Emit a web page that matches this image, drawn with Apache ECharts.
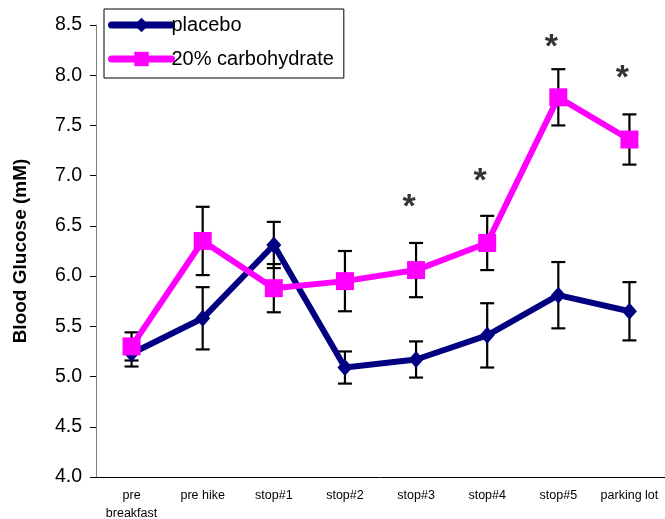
<!DOCTYPE html>
<html>
<head>
<meta charset="utf-8">
<script src="https://cdn.jsdelivr.net/npm/echarts@6/dist/echarts.min.js"></script>
<style>html,body{margin:0;padding:0;background:#fff;}#c{width:665px;height:519px;}</style>
</head>
<body>
<div id="c"></div>
<script>
const categories = ['pre\nbreakfast','pre hike','stop#1','stop#2','stop#3','stop#4','stop#5','parking lot'];
const placebo    = [5.23, 5.58, 6.31, 5.09, 5.17, 5.41, 5.81, 5.65];
const placeboErr = [0.13, 0.31, 0.23, 0.16, 0.18, 0.32, 0.33, 0.29];
const carb       = [5.30, 6.35, 5.88, 5.95, 6.06, 6.33, 7.78, 7.36];
const carbErr    = [0.14, 0.34, 0.24, 0.30, 0.27, 0.27, 0.28, 0.25];
const stars      = [null, null, null, null, 6.74, 7.00, 8.33, 8.03];
const yTicks     = [4.0, 4.5, 5.0, 5.5, 6.0, 6.5, 7.0, 7.5, 8.0, 8.5];

const FONT = '"Liberation Sans", Arial, sans-serif';

function errData(vals, errs) {
  return vals.map((v, i) => [i, v - errs[i], v + errs[i]]);
}
function errRender(params, api) {
  const x = api.value(0);
  const lo = api.coord([x, api.value(1)]);
  const hi = api.coord([x, api.value(2)]);
  const hw = 7;
  const style = {stroke: '#000', lineWidth: 2.2, fill: null};
  return {
    type: 'group',
    children: [
      {type: 'line', shape: {x1: hi[0], y1: hi[1], x2: lo[0], y2: lo[1]}, style},
      {type: 'line', shape: {x1: hi[0] - hw, y1: hi[1], x2: hi[0] + hw, y2: hi[1]}, style},
      {type: 'line', shape: {x1: lo[0] - hw, y1: lo[1], x2: lo[0] + hw, y2: lo[1]}, style}
    ]
  };
}

const chart = echarts.init(document.getElementById('c'), null, {renderer: 'canvas'});
chart.setOption({
  animation: false,
  backgroundColor: '#fff',
  grid: {left: 96, right: 0, top: 25, bottom: 42, outerBoundsMode: 'none', containLabel: false},
  legend: {
    orient: 'vertical',
    left: 104, top: 9,
    padding: [6, 10, 9, 4],
    itemGap: 14,
    itemWidth: 60, itemHeight: 18,
    borderColor: '#000', borderWidth: 1,
    lineStyle: {width: 7, cap: 'round'},
    textStyle: {fontFamily: FONT, fontSize: 20, color: '#000', padding: [0, 0, 0, -5]},
    data: ['placebo', '20% carbohydrate']
  },
  xAxis: {
    type: 'category',
    data: categories,
    boundaryGap: true,
    axisLine: {lineStyle: {color: '#000', width: 1}},
    axisTick: {show: false},
    axisLabel: {fontFamily: FONT, fontSize: 12.5, color: '#000', margin: 10, lineHeight: 18, interval: 0}
  },
  yAxis: {
    type: 'value',
    min: 4.0, max: 8.5, interval: 0.5,
    name: 'Blood Glucose (mM)',
    nameLocation: 'middle',
    nameGap: 66,
    nameTextStyle: {fontFamily: FONT, fontSize: 19, fontWeight: 'bold', color: '#000'},
    axisLine: {show: true, lineStyle: {color: '#808080', width: 1}},
    axisTick: {show: true, inside: false, length: 6, lineStyle: {color: '#000'}},
    splitLine: {show: false},
    axisLabel: {fontFamily: FONT, fontSize: 19.5, color: '#000', margin: 14,
      formatter: v => yTicks.includes(+v.toFixed(1)) ? v.toFixed(1) : ''}
  },
  series: [
    {
      name: 'placeboErr', type: 'custom', renderItem: errRender,
      data: errData(placebo, placeboErr), z: 1, silent: true
    },
    {
      name: 'carbErr', type: 'custom', renderItem: errRender,
      data: errData(carb, carbErr), z: 1, silent: true
    },
    {
      name: 'placebo', type: 'line', data: placebo, z: 3,
      symbol: 'diamond', symbolSize: [15, 17], showAllSymbol: true,
      lineStyle: {color: '#000080', width: 6},
      itemStyle: {color: '#000080'}
    },
    {
      name: '20% carbohydrate', type: 'line', data: carb, z: 4,
      symbol: 'rect', symbolSize: 18, showAllSymbol: true,
      lineStyle: {color: '#FF00FF', width: 6},
      itemStyle: {color: '#FF00FF'}
    },
    {
      name: 'stars', type: 'scatter', data: stars, symbolSize: 0, z: 5, silent: true,
      label: {show: true, position: 'inside', formatter: '*', fontFamily: FONT,
        fontSize: 34, fontWeight: 'bold', color: '#000', offset: [-7, 6]}
    }
  ]
});
</script>
</body>
</html>
